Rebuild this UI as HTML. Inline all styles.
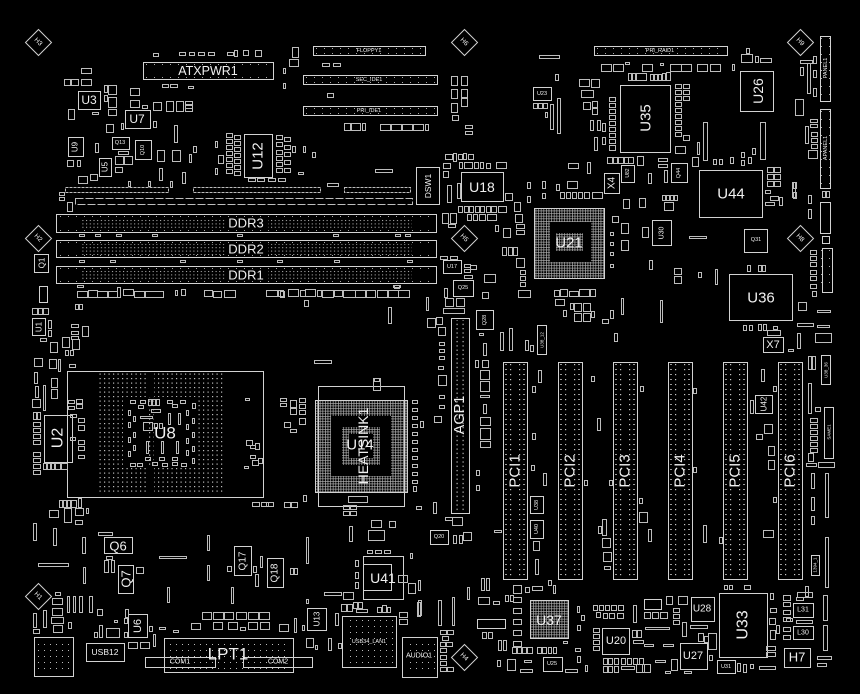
<!DOCTYPE html>
<html><head><meta charset="utf-8">
<style>
html,body{margin:0;padding:0;background:#000;width:860px;height:694px;overflow:hidden}
svg{display:block}
text{font-family:"Liberation Sans",sans-serif;fill:#f0f0f0}
</style></head><body>
<svg width="860" height="694" viewBox="0 0 860 694" xmlns="http://www.w3.org/2000/svg">
<defs>
<pattern id="pdd" x="0" y="219" width="3.7" height="3.4" patternUnits="userSpaceOnUse"><rect x="1" y="1" width="1" height="1" fill="#c8c8c8"/></pattern>
<pattern id="pu8" x="98" y="372" width="4.5" height="4.5" patternUnits="userSpaceOnUse"><rect x="1.5" y="1.5" width="1.2" height="1.2" fill="#bdbdbd"/></pattern>
<pattern id="pgrid" width="2.6" height="2.6" patternUnits="userSpaceOnUse"><path d="M0 0.35H2.6M0.35 0V2.6" stroke="#b0b0b0" stroke-width="0.7"/></pattern>
<pattern id="ppci" x="503" y="362" width="55" height="5" patternUnits="userSpaceOnUse"><rect x="7" y="2" width="1.2" height="1.2" fill="#c8c8c8"/><rect x="16" y="2" width="1.2" height="1.2" fill="#c8c8c8"/><rect x="2" y="2" width="2" height="1" fill="#999"/><rect x="20" y="2" width="2" height="1" fill="#999"/></pattern>
<pattern id="pagp" x="451" y="318" width="18" height="4.3" patternUnits="userSpaceOnUse"><rect x="5.5" y="1.5" width="1.2" height="1.2" fill="#c8c8c8"/><rect x="11.5" y="1.5" width="1.2" height="1.2" fill="#c8c8c8"/></pattern>
<pattern id="pdot6" width="6" height="6" patternUnits="userSpaceOnUse"><rect x="2" y="2" width="1" height="1" fill="#bbb"/></pattern>
</defs>

<!-- pin/dot fills -->
<g>
<rect x="80" y="218" width="145" height="11" fill="url(#pdd)"/>
<rect x="268" y="218" width="144" height="11" fill="url(#pdd)"/>
<rect x="80" y="244" width="145" height="11" fill="url(#pdd)"/>
<rect x="268" y="244" width="144" height="11" fill="url(#pdd)"/>
<rect x="80" y="269" width="145" height="11" fill="url(#pdd)"/>
<rect x="268" y="269" width="144" height="11" fill="url(#pdd)"/>
<path d="M98 372H149V495H98Z M154 372H225V495H154Z M123 397V467H197V397Z" fill="url(#pu8)" fill-rule="evenodd"/>
<rect x="503" y="364" width="24" height="214" fill="url(#ppci)"/>
<rect x="558" y="364" width="24" height="214" fill="url(#ppci)"/>
<rect x="613" y="364" width="24" height="214" fill="url(#ppci)"/>
<rect x="668" y="364" width="24" height="214" fill="url(#ppci)"/>
<rect x="723" y="364" width="24" height="214" fill="url(#ppci)"/>
<rect x="778" y="364" width="24" height="214" fill="url(#ppci)"/>
<rect x="451" y="320" width="18" height="192" fill="url(#pagp)"/>
<path d="M534 208H604V278H534Z M550 222V262H591V222Z" fill="url(#pgrid)" fill-rule="evenodd"/>
<rect x="556" y="233" width="27" height="18" fill="url(#pgrid)"/>
<path d="M315 400H407V492H315Z M331 416V476H391V416Z" fill="url(#pgrid)" fill-rule="evenodd"/>
<path d="M342 427H380V465H342Z M349 434V458H373V434Z" fill="url(#pgrid)" fill-rule="evenodd"/>
<rect x="530" y="600" width="38" height="38" fill="url(#pgrid)"/>
<rect x="36" y="641" width="34" height="32" fill="url(#pdot6)"/>
<rect x="345" y="620" width="48" height="44" fill="url(#pdot6)"/>
<rect x="405" y="640" width="30" height="34" fill="url(#pdot6)"/>
<rect x="168" y="641" width="122" height="28" fill="url(#pdot6)"/>
</g>

<g fill="none" stroke="#d2d2d2" stroke-width="1" transform="translate(.5,.5)">
<!-- mounting holes -->
<polygon points="38,29 51,42 38,55 25,42"/>
<polygon points="38,225 51,238 38,251 25,238"/>
<polygon points="38,583 51,596 38,609 25,596"/>
<polygon points="464,29 477,42 464,55 451,42"/>
<polygon points="800,29 813,42 800,55 787,42"/>
<polygon points="464,225 477,238 464,251 451,238"/>
<polygon points="800,225 813,238 800,251 787,238"/>
<polygon points="464,644 477,657 464,670 451,657"/>

<!-- connectors top -->
<rect x="143" y="62" width="130" height="17"/>
<rect x="313" y="46" width="112" height="9"/>
<rect x="303" y="75" width="134" height="9"/>
<rect x="303" y="106" width="134" height="9"/>
<rect x="594" y="46" width="133" height="9"/>
<rect x="820" y="36" width="10" height="65"/>
<rect x="820" y="109" width="10" height="79"/>
<rect x="820" y="202" width="10" height="31"/>
<rect x="822" y="236" width="7" height="7"/>
<rect x="822" y="248" width="10" height="44"/>

<!-- DDR -->
<rect x="56" y="214" width="380" height="18"/>
<rect x="56" y="240" width="380" height="17"/>
<rect x="56" y="266" width="380" height="17"/>
<rect x="416" y="167" width="23" height="37"/>

<!-- chips top -->
<rect x="78" y="91" width="22" height="18"/>
<rect x="125" y="110" width="25" height="18"/>
<rect x="244" y="134" width="28" height="43"/>
<rect x="68" y="137" width="15" height="19"/>
<rect x="112" y="137" width="17" height="12"/>
<rect x="135" y="140" width="16" height="19"/>
<rect x="99" y="158" width="12" height="18"/>
<rect x="461" y="172" width="42" height="29"/>
<rect x="533" y="87" width="18" height="13"/>
<rect x="620" y="85" width="50" height="67"/>
<rect x="740" y="71" width="33" height="40"/>
<rect x="604" y="173" width="15" height="20"/>
<rect x="621" y="165" width="13" height="17"/>
<rect x="671" y="163" width="16" height="19"/>
<rect x="699" y="170" width="63" height="47"/>
<rect x="744" y="229" width="23" height="23"/>
<rect x="652" y="220" width="19" height="25"/>
<rect x="534" y="208" width="70" height="70"/>
<rect x="729" y="274" width="63" height="46"/>
<rect x="763" y="337" width="20" height="15"/>
<rect x="443" y="260" width="18" height="13"/>
<rect x="453" y="280" width="20" height="16"/>

<!-- middle -->
<rect x="67" y="371" width="196" height="126"/>
<rect x="44" y="415" width="28" height="47"/>
<rect x="32" y="318" width="13" height="17"/>
<rect x="34" y="254" width="14" height="18"/>
<rect x="39" y="286" width="8" height="16"/>
<rect x="318" y="386" width="86" height="120"/>
<rect x="315" y="400" width="92" height="92"/>
<rect x="451" y="318" width="18" height="195"/>
<rect x="503" y="362" width="24" height="217"/>
<rect x="558" y="362" width="24" height="217"/>
<rect x="613" y="362" width="24" height="217"/>
<rect x="668" y="362" width="24" height="217"/>
<rect x="723" y="362" width="24" height="217"/>
<rect x="778" y="362" width="24" height="217"/>
<rect x="476" y="310" width="17" height="19"/>
<rect x="537" y="325" width="9" height="29"/>
<rect x="530" y="496" width="13" height="17"/>
<rect x="530" y="520" width="13" height="18"/>
<rect x="430" y="530" width="18" height="14"/>
<rect x="755" y="395" width="17" height="18"/>
<rect x="821" y="355" width="9" height="29"/>
<rect x="824" y="407" width="9" height="51"/>
<rect x="811" y="555" width="8" height="20"/>

<!-- bottom -->
<rect x="104" y="537" width="28" height="16"/>
<rect x="118" y="565" width="15" height="28"/>
<rect x="234" y="546" width="17" height="29"/>
<rect x="267" y="558" width="16" height="29"/>
<rect x="363" y="556" width="40" height="43"/>
<rect x="363" y="564" width="28" height="26"/>
<rect x="128" y="614" width="19" height="23"/>
<rect x="307" y="608" width="19" height="22"/>
<rect x="34" y="637" width="39" height="39"/>
<rect x="86" y="643" width="38" height="18"/>
<rect x="164" y="638" width="129" height="34"/>
<rect x="145" y="657" width="70" height="10"/>
<rect x="243" y="657" width="69" height="10"/>
<rect x="342" y="616" width="54" height="51"/>
<rect x="402" y="637" width="35" height="40"/>
<rect x="530" y="600" width="38" height="38"/>
<rect x="602" y="628" width="27" height="26"/>
<rect x="543" y="657" width="19" height="14"/>
<rect x="680" y="643" width="27" height="26"/>
<rect x="691" y="597" width="23" height="24"/>
<rect x="719" y="593" width="48" height="64"/>
<rect x="717" y="660" width="18" height="13"/>
<rect x="784" y="648" width="26" height="19"/>
<rect x="793" y="603" width="20" height="14"/>
<rect x="793" y="626" width="20" height="13"/>
<rect x="477" y="619" width="28" height="9"/>
<rect x="644" y="599" width="17" height="10"/>
</g>

<!-- small parts -->
<g fill="none" stroke="#bdbdbd" stroke-width="1" transform="translate(.5,.5)">
<rect x="153" y="53" width="5" height="3"/><rect x="179" y="52" width="6" height="3"/><rect x="189" y="52" width="5" height="3"/><rect x="198" y="52" width="6" height="3"/><rect x="208" y="52" width="6" height="3"/><rect x="227" y="52" width="6" height="3"/><rect x="234" y="50" width="3" height="6"/><rect x="243" y="50" width="5" height="5"/><rect x="255" y="50" width="6" height="6"/>
<rect x="292" y="47" width="6" height="10"/><rect x="289" y="59" width="9" height="7"/><rect x="283" y="68" width="2" height="5"/><rect x="283" y="83" width="2" height="5"/>
<rect x="81" y="68" width="10" height="5"/><rect x="64" y="79" width="6" height="6"/><rect x="71" y="79" width="7" height="6"/><rect x="81" y="79" width="10" height="6"/>
<rect x="162" y="84" width="6" height="3"/><rect x="170" y="84" width="7" height="3"/><rect x="188" y="86" width="5" height="2"/>
<rect x="322" y="63" width="7" height="3"/><rect x="333" y="63" width="7" height="3"/><rect x="327" y="93" width="6" height="4"/>
<rect x="68" y="109" width="6" height="10"/><rect x="92" y="112" width="6" height="2"/>
<rect x="104" y="85" width="3" height="7"/><rect x="108" y="85" width="8" height="9"/><rect x="104" y="95" width="3" height="6"/><rect x="108" y="97" width="8" height="10"/><rect x="108" y="109" width="8" height="6"/>
<rect x="130" y="88" width="9" height="7"/><rect x="130" y="100" width="9" height="7"/><rect x="142" y="105" width="5" height="3"/>
<rect x="153" y="102" width="8" height="8"/><rect x="166" y="101" width="7" height="10"/><rect x="176" y="101" width="7" height="10"/><rect x="185" y="101" width="7" height="3"/><rect x="185" y="105" width="7" height="3"/><rect x="185" y="108" width="7" height="3"/>
<rect x="153" y="121" width="3" height="6"/><rect x="106" y="124" width="7" height="8"/><rect x="121" y="123" width="2" height="6"/>
<rect x="174" y="125" width="3" height="17"/><rect x="95" y="143" width="3" height="9"/><rect x="193" y="146" width="3" height="6"/><rect x="189" y="154" width="2" height="8"/>
<rect x="115" y="156" width="8" height="8"/><rect x="124" y="156" width="8" height="8"/><rect x="118" y="151" width="10" height="3"/>
<rect x="157" y="150" width="7" height="11"/><rect x="172" y="150" width="8" height="11"/><rect x="115" y="167" width="7" height="5"/>
<rect x="67" y="160" width="6" height="6"/><rect x="77" y="160" width="3" height="6"/><rect x="78" y="176" width="9" height="7"/><rect x="90" y="174" width="7" height="6"/>
<rect x="159" y="168" width="3" height="12"/><rect x="182" y="172" width="3" height="11"/><rect x="128" y="181" width="2" height="5"/><rect x="148" y="181" width="2" height="5"/><rect x="170" y="181" width="2" height="6"/>
<rect x="226" y="133" width="6" height="4"/><rect x="226" y="139" width="6" height="4"/><rect x="226" y="145" width="6" height="4"/><rect x="226" y="151" width="6" height="4"/><rect x="226" y="157" width="6" height="4"/><rect x="226" y="163" width="6" height="4"/><rect x="226" y="169" width="6" height="4"/>
<rect x="234" y="135" width="6" height="4"/><rect x="234" y="141" width="6" height="4"/><rect x="234" y="147" width="6" height="4"/><rect x="234" y="153" width="6" height="4"/><rect x="234" y="159" width="6" height="4"/><rect x="234" y="165" width="6" height="4"/><rect x="234" y="171" width="6" height="4"/>
<rect x="276" y="135" width="6" height="4"/><rect x="276" y="142" width="6" height="4"/><rect x="276" y="150" width="6" height="4"/><rect x="276" y="156" width="6" height="4"/><rect x="276" y="162" width="6" height="4"/><rect x="276" y="168" width="6" height="4"/>
<rect x="284" y="137" width="6" height="4"/><rect x="284" y="145" width="6" height="4"/><rect x="284" y="152" width="6" height="4"/><rect x="284" y="160" width="6" height="4"/><rect x="284" y="168" width="6" height="4"/><rect x="292" y="146" width="3" height="6"/>
<rect x="248" y="178" width="7" height="3"/><rect x="257" y="178" width="7" height="3"/><rect x="268" y="178" width="7" height="3"/><rect x="278" y="178" width="7" height="3"/>
<rect x="215" y="141" width="2" height="6"/><rect x="215" y="168" width="2" height="6"/><rect x="218" y="155" width="5" height="8"/>
<rect x="303" y="146" width="2" height="6"/><rect x="312" y="152" width="3" height="5"/><rect x="298" y="172" width="5" height="2"/><rect x="375" y="169" width="17" height="3"/><rect x="327" y="183" width="11" height="3"/>
<rect x="344" y="123" width="6" height="7"/><rect x="351" y="123" width="9" height="7"/><rect x="362" y="123" width="3" height="7"/><rect x="380" y="124" width="10" height="6"/><rect x="391" y="124" width="10" height="6"/><rect x="402" y="124" width="10" height="6"/><rect x="413" y="124" width="10" height="6"/><rect x="425" y="124" width="3" height="6"/>
<rect x="59" y="192" width="5" height="3"/><rect x="59" y="197" width="5" height="3"/><rect x="67" y="202" width="5" height="9"/>
</g>
<!-- small rows (pad strips) -->
<g fill="none" stroke="#bdbdbd" stroke-width="1" stroke-dasharray="3 1" transform="translate(.5,.5)">
<rect x="65" y="187" width="103" height="5"/>
<rect x="193" y="187" width="127" height="5"/>
<rect x="344" y="187" width="66" height="5"/>
</g>
<g fill="none" stroke="#bdbdbd" stroke-width="1" stroke-dasharray="8 2" transform="translate(.5,.5)">
<rect x="75" y="198" width="337" height="6"/>
</g>

<g fill="none" stroke="#bdbdbd" stroke-width="1" transform="translate(.5,.5)">
<!-- between DDR -->
<rect x="79" y="234" width="5" height="2"/><rect x="95" y="234" width="5" height="2"/><rect x="116" y="234" width="5" height="2"/><rect x="152" y="234" width="5" height="2"/><rect x="237" y="234" width="5" height="2"/><rect x="333" y="234" width="5" height="2"/><rect x="395" y="234" width="5" height="2"/><rect x="405" y="234" width="5" height="2"/>
<rect x="79" y="260" width="5" height="2"/><rect x="110" y="260" width="5" height="2"/><rect x="180" y="260" width="5" height="2"/><rect x="237" y="260" width="5" height="2"/><rect x="277" y="260" width="5" height="2"/><rect x="334" y="260" width="5" height="2"/><rect x="407" y="260" width="5" height="2"/>
<!-- under DDR1 -->
<rect x="77" y="285" width="6" height="2"/><rect x="77" y="291" width="10" height="6"/><rect x="88" y="290" width="9" height="7"/><rect x="97" y="291" width="10" height="6"/><rect x="108" y="291" width="9" height="6"/><rect x="117" y="287" width="3" height="10"/><rect x="123" y="289" width="10" height="6"/><rect x="134" y="291" width="10" height="6"/><rect x="145" y="291" width="18" height="6"/><rect x="175" y="290" width="2" height="5"/><rect x="181" y="289" width="4" height="6"/><rect x="204" y="290" width="8" height="6"/><rect x="213" y="291" width="8" height="6"/><rect x="224" y="290" width="11" height="7"/>
<rect x="266" y="290" width="11" height="6"/><rect x="278" y="290" width="5" height="6"/><rect x="288" y="289" width="10" height="7"/><rect x="300" y="290" width="5" height="6"/><rect x="305" y="289" width="10" height="7"/><rect x="317" y="290" width="4" height="6"/><rect x="322" y="290" width="11" height="7"/><rect x="334" y="290" width="8" height="6"/><rect x="343" y="290" width="12" height="7"/><rect x="355" y="290" width="10" height="7"/><rect x="366" y="290" width="9" height="7"/><rect x="377" y="290" width="10" height="7"/><rect x="388" y="290" width="10" height="7"/><rect x="398" y="290" width="11" height="7"/><rect x="393" y="285" width="7" height="2"/>
<rect x="280" y="291" width="4" height="6"/>
<!-- right of DDR / AGP area -->
<rect x="304" y="300" width="4" height="6"/><rect x="388" y="307" width="3" height="16"/><rect x="426" y="297" width="2" height="13"/><rect x="394" y="285" width="5" height="3"/>
<rect x="444" y="288" width="3" height="9"/><rect x="445" y="298" width="8" height="8"/><rect x="456" y="298" width="8" height="8"/><rect x="443" y="308" width="21" height="5"/>
<rect x="427" y="318" width="8" height="9"/><rect x="436" y="317" width="6" height="7"/><rect x="438" y="327" width="7" height="8"/><rect x="439" y="342" width="5" height="3"/><rect x="439" y="349" width="5" height="3"/><rect x="439" y="356" width="5" height="3"/><rect x="438" y="366" width="5" height="3"/><rect x="438" y="375" width="8" height="10"/><rect x="439" y="395" width="5" height="3"/><rect x="439" y="405" width="5" height="3"/><rect x="434" y="416" width="7" height="6"/><rect x="420" y="421" width="3" height="6"/>
<rect x="314" y="360" width="17" height="3"/><rect x="373" y="378" width="7" height="12"/>
<rect x="412" y="400" width="5" height="3"/><rect x="412" y="408" width="5" height="3"/><rect x="412" y="416" width="5" height="3"/><rect x="412" y="424" width="5" height="3"/><rect x="412" y="432" width="5" height="3"/><rect x="412" y="440" width="5" height="3"/><rect x="412" y="448" width="5" height="3"/><rect x="412" y="456" width="5" height="3"/><rect x="412" y="464" width="5" height="3"/><rect x="412" y="472" width="5" height="3"/><rect x="412" y="480" width="5" height="3"/><rect x="413" y="486" width="3" height="5"/>
<rect x="280" y="398" width="6" height="3"/><rect x="280" y="403" width="6" height="3"/><rect x="290" y="400" width="6" height="7"/><rect x="290" y="408" width="6" height="6"/><rect x="299" y="398" width="6" height="4"/><rect x="299" y="404" width="6" height="4"/><rect x="299" y="410" width="6" height="4"/><rect x="299" y="418" width="6" height="6"/><rect x="284" y="422" width="6" height="5"/><rect x="290" y="429" width="6" height="3"/>
<rect x="284" y="502" width="6" height="5"/><rect x="291" y="502" width="6" height="5"/><rect x="303" y="495" width="3" height="6"/><rect x="252" y="502" width="7" height="4"/><rect x="261" y="502" width="7" height="4"/><rect x="266" y="502" width="7" height="4"/>
<rect x="348" y="496" width="19" height="6"/><rect x="343" y="505" width="6" height="4"/><rect x="343" y="511" width="6" height="4"/><rect x="350" y="505" width="6" height="4"/><rect x="350" y="511" width="6" height="4"/><rect x="374" y="378" width="5" height="3"/>
<rect x="433" y="502" width="3" height="11"/><rect x="445" y="517" width="7" height="3"/><rect x="452" y="517" width="10" height="8"/><rect x="453" y="535" width="3" height="8"/><rect x="459" y="535" width="3" height="8"/><rect x="463" y="532" width="8" height="8"/><rect x="416" y="506" width="5" height="3"/>
<!-- between AGP / PCI -->
<rect x="479" y="333" width="4" height="2"/><rect x="483" y="343" width="3" height="12"/><rect x="500" y="332" width="3" height="18"/><rect x="509" y="328" width="3" height="22"/><rect x="525" y="340" width="3" height="10"/><rect x="530" y="345" width="3" height="6"/>
<rect x="475" y="360" width="3" height="7"/><rect x="482" y="360" width="6" height="7"/><rect x="480" y="370" width="9" height="9"/><rect x="480" y="381" width="9" height="10"/><rect x="480" y="395" width="9" height="2"/><rect x="483" y="404" width="3" height="9"/><rect x="480" y="417" width="10" height="8"/><rect x="480" y="428" width="10" height="11"/><rect x="480" y="441" width="10" height="6"/>
<rect x="476" y="470" width="3" height="5"/><rect x="476" y="485" width="3" height="5"/><rect x="494" y="530" width="7" height="2"/><rect x="481" y="578" width="3" height="12"/><rect x="486" y="578" width="3" height="12"/><rect x="467" y="587" width="2" height="12"/>
<rect x="538" y="370" width="3" height="12"/><rect x="532" y="386" width="3" height="6"/><rect x="532" y="433" width="3" height="6"/><rect x="531" y="465" width="3" height="5"/><rect x="543" y="473" width="3" height="12"/><rect x="533" y="541" width="6" height="9"/><rect x="535" y="559" width="3" height="15"/>
<rect x="591" y="376" width="3" height="5"/><rect x="597" y="418" width="3" height="12"/><rect x="584" y="480" width="3" height="5"/><rect x="609" y="480" width="3" height="5"/><rect x="598" y="526" width="3" height="7"/><rect x="602" y="519" width="4" height="16"/><rect x="602" y="538" width="8" height="9"/><rect x="603" y="552" width="8" height="9"/><rect x="604" y="566" width="6" height="3"/>
<rect x="640" y="386" width="3" height="5"/><rect x="639" y="498" width="3" height="5"/><rect x="639" y="512" width="8" height="10"/><rect x="648" y="529" width="3" height="12"/>
<rect x="693" y="388" width="3" height="5"/><rect x="693" y="467" width="3" height="5"/><rect x="703" y="525" width="3" height="17"/><rect x="719" y="537" width="3" height="6"/>
<rect x="761" y="369" width="3" height="12"/><rect x="773" y="386" width="3" height="5"/><rect x="750" y="400" width="3" height="13"/><rect x="764" y="424" width="8" height="9"/><rect x="756" y="434" width="6" height="5"/><rect x="768" y="446" width="6" height="9"/><rect x="768" y="460" width="6" height="9"/><rect x="773" y="497" width="3" height="5"/><rect x="763" y="530" width="10" height="7"/>
<rect x="743" y="325" width="3" height="5"/><rect x="749" y="325" width="3" height="5"/><rect x="758" y="324" width="3" height="6"/><rect x="763" y="324" width="3" height="6"/><rect x="773" y="326" width="4" height="3"/><rect x="767" y="330" width="13" height="5"/><rect x="788" y="349" width="5" height="2"/><rect x="797" y="333" width="3" height="15"/>
<rect x="797" y="323" width="16" height="3"/><rect x="817" y="325" width="12" height="2"/><rect x="815" y="333" width="16" height="9"/><rect x="798" y="302" width="8" height="8"/><rect x="817" y="310" width="13" height="2"/>
<rect x="808" y="356" width="3" height="13"/><rect x="812" y="356" width="3" height="13"/><rect x="808" y="383" width="3" height="30"/><rect x="815" y="407" width="5" height="4"/>
<rect x="810" y="418" width="7" height="4"/><rect x="810" y="424" width="7" height="4"/><rect x="810" y="430" width="7" height="4"/><rect x="810" y="436" width="7" height="4"/><rect x="810" y="442" width="7" height="4"/><rect x="810" y="448" width="7" height="4"/><rect x="808" y="453" width="5" height="8"/>
<rect x="818" y="462" width="16" height="5"/><rect x="806" y="463" width="10" height="3"/><rect x="811" y="473" width="3" height="15"/><rect x="811" y="497" width="3" height="13"/><rect x="811" y="516" width="3" height="8"/><rect x="825" y="473" width="3" height="44"/><rect x="825" y="537" width="3" height="50"/>
<!-- U8 internals -->
<rect x="130" y="400" width="5" height="3"/><rect x="140" y="400" width="5" height="3"/><rect x="148" y="399" width="3" height="6"/><rect x="152" y="399" width="3" height="6"/><rect x="156" y="399" width="3" height="6"/><rect x="167" y="400" width="5" height="3"/><rect x="180" y="400" width="5" height="3"/>
<rect x="138" y="405" width="5" height="3"/><rect x="151" y="409" width="9" height="3"/><rect x="172" y="404" width="5" height="3"/><rect x="192" y="403" width="3" height="5"/>
<rect x="128" y="410" width="2" height="5"/><rect x="128" y="422" width="2" height="5"/><rect x="128" y="437" width="2" height="5"/><rect x="128" y="451" width="2" height="5"/><rect x="133" y="416" width="2" height="5"/><rect x="133" y="432" width="2" height="5"/><rect x="133" y="445" width="2" height="5"/>
<rect x="186" y="410" width="2" height="5"/><rect x="186" y="424" width="2" height="5"/><rect x="186" y="438" width="2" height="5"/><rect x="186" y="450" width="2" height="5"/><rect x="192" y="418" width="2" height="5"/><rect x="192" y="432" width="2" height="5"/><rect x="192" y="446" width="2" height="5"/><rect x="192" y="458" width="2" height="5"/>
<rect x="140" y="416" width="12" height="2"/><rect x="143" y="422" width="9" height="8"/><rect x="154" y="423" width="3" height="5"/><rect x="159" y="423" width="3" height="5"/><rect x="168" y="413" width="2" height="11"/><rect x="178" y="413" width="2" height="11"/>
<rect x="146" y="441" width="2" height="12"/><rect x="161" y="441" width="2" height="12"/><rect x="176" y="441" width="2" height="12"/>
<rect x="130" y="463" width="5" height="3"/><rect x="137" y="463" width="5" height="3"/><rect x="152" y="462" width="5" height="3"/><rect x="162" y="463" width="5" height="3"/><rect x="172" y="462" width="5" height="3"/><rect x="181" y="463" width="5" height="3"/><rect x="145" y="457" width="5" height="3"/><rect x="159" y="457" width="5" height="3"/><rect x="172" y="457" width="5" height="3"/>
<rect x="245" y="398" width="4" height="2"/><rect x="246" y="440" width="6" height="5"/><rect x="250" y="445" width="5" height="3"/><rect x="255" y="443" width="4" height="6"/><rect x="250" y="455" width="5" height="3"/><rect x="252" y="460" width="6" height="5"/><rect x="258" y="458" width="4" height="5"/><rect x="244" y="466" width="4" height="2"/>
<rect x="68" y="400" width="6" height="3"/><rect x="68" y="406" width="6" height="3"/><rect x="76" y="399" width="6" height="4"/><rect x="76" y="404" width="6" height="4"/><rect x="70" y="414" width="6" height="3"/><rect x="78" y="418" width="6" height="4"/><rect x="78" y="425" width="6" height="5"/><rect x="70" y="437" width="5" height="3"/><rect x="78" y="440" width="6" height="4"/><rect x="78" y="446" width="6" height="4"/><rect x="78" y="455" width="6" height="3"/>
<!-- left column -->
<rect x="32" y="308" width="5" height="6"/><rect x="38" y="308" width="4" height="6"/><rect x="43" y="308" width="5" height="6"/><rect x="75" y="304" width="3" height="5"/><rect x="79" y="304" width="3" height="5"/>
<rect x="48" y="320" width="3" height="8"/><rect x="48" y="330" width="3" height="6"/><rect x="40" y="338" width="6" height="3"/><rect x="71" y="324" width="7" height="3"/><rect x="71" y="331" width="7" height="3"/><rect x="71" y="336" width="7" height="3"/><rect x="82" y="326" width="6" height="10"/>
<rect x="50" y="342" width="7" height="10"/><rect x="62" y="337" width="7" height="10"/><rect x="72" y="339" width="7" height="10"/><rect x="65" y="350" width="3" height="5"/><rect x="70" y="350" width="3" height="5"/>
<rect x="34" y="358" width="8" height="8"/><rect x="49" y="359" width="7" height="9"/><rect x="58" y="359" width="2" height="12"/><rect x="69" y="364" width="6" height="3"/>
<rect x="34" y="372" width="3" height="11"/><rect x="35" y="386" width="3" height="11"/><rect x="43" y="385" width="2" height="25"/><rect x="51" y="378" width="6" height="9"/><rect x="51" y="389" width="6" height="9"/><rect x="32" y="399" width="8" height="8"/>
<rect x="33" y="412" width="3" height="7"/><rect x="37" y="412" width="3" height="7"/><rect x="33" y="422" width="7" height="4"/><rect x="33" y="428" width="7" height="4"/><rect x="33" y="434" width="7" height="4"/><rect x="33" y="440" width="7" height="4"/><rect x="33" y="452" width="7" height="4"/><rect x="33" y="458" width="7" height="4"/><rect x="33" y="464" width="7" height="4"/><rect x="33" y="470" width="7" height="4"/>
<rect x="43" y="463" width="3" height="6"/><rect x="47" y="463" width="3" height="6"/><rect x="51" y="463" width="3" height="6"/><rect x="55" y="463" width="5" height="6"/><rect x="61" y="463" width="6" height="6"/>
<rect x="59" y="500" width="3" height="7"/><rect x="63" y="500" width="3" height="7"/><rect x="67" y="500" width="3" height="7"/><rect x="71" y="500" width="5" height="7"/><rect x="78" y="498" width="3" height="9"/>
<rect x="49" y="510" width="9" height="7"/><rect x="64" y="508" width="7" height="14"/><rect x="75" y="508" width="8" height="7"/><rect x="86" y="508" width="2" height="5"/><rect x="75" y="520" width="7" height="4"/>
<rect x="33" y="523" width="3" height="17"/><rect x="53" y="528" width="3" height="17"/><rect x="82" y="537" width="3" height="16"/><rect x="98" y="532" width="14" height="3"/>
<rect x="104" y="560" width="4" height="12"/><rect x="111" y="560" width="3" height="12"/><rect x="106" y="556" width="6" height="3"/><rect x="136" y="567" width="7" height="6"/>
<rect x="38" y="563" width="30" height="3"/><rect x="83" y="567" width="2" height="16"/><rect x="159" y="556" width="27" height="2"/>
<rect x="207" y="535" width="2" height="15"/><rect x="207" y="565" width="2" height="15"/><rect x="167" y="587" width="2" height="15"/><rect x="227" y="566" width="4" height="5"/>
<rect x="253" y="566" width="3" height="6"/><rect x="255" y="574" width="3" height="12"/><rect x="260" y="556" width="2" height="11"/><rect x="290" y="568" width="3" height="6"/><rect x="294" y="568" width="3" height="6"/><rect x="231" y="587" width="2" height="16"/><rect x="306" y="537" width="2" height="26"/>
<rect x="324" y="592" width="17" height="3"/><rect x="343" y="592" width="10" height="7"/><rect x="349" y="526" width="3" height="15"/><rect x="371" y="520" width="10" height="7"/><rect x="368" y="530" width="16" height="10"/><rect x="389" y="521" width="6" height="6"/>
<rect x="367" y="550" width="5" height="3"/><rect x="375" y="550" width="6" height="3"/><rect x="384" y="550" width="6" height="3"/><rect x="355" y="560" width="3" height="6"/><rect x="355" y="572" width="3" height="6"/><rect x="355" y="582" width="3" height="6"/>
<rect x="398" y="575" width="9" height="7"/><rect x="408" y="583" width="7" height="10"/><rect x="418" y="580" width="2" height="10"/><rect x="410" y="553" width="2" height="5"/><rect x="418" y="600" width="3" height="15"/>
<!-- bottom left small -->
<rect x="55" y="592" width="5" height="3"/><rect x="52" y="598" width="10" height="6"/><rect x="52" y="608" width="10" height="7"/><rect x="51" y="617" width="12" height="6"/><rect x="53" y="625" width="9" height="7"/>
<rect x="67" y="596" width="2" height="16"/><rect x="73" y="596" width="2" height="16"/><rect x="79" y="596" width="3" height="16"/><rect x="89" y="596" width="3" height="16"/><rect x="97" y="609" width="5" height="6"/>
<rect x="33" y="613" width="3" height="14"/><rect x="43" y="610" width="3" height="17"/><rect x="33" y="629" width="6" height="4"/><rect x="68" y="622" width="3" height="6"/>
<rect x="94" y="632" width="3" height="5"/><rect x="99" y="625" width="3" height="12"/><rect x="106" y="628" width="13" height="9"/><rect x="114" y="620" width="3" height="2"/><rect x="125" y="609" width="3" height="8"/><rect x="124" y="618" width="3" height="5"/><rect x="124" y="632" width="3" height="5"/>
<rect x="149" y="626" width="3" height="5"/><rect x="153" y="634" width="2" height="12"/><rect x="128" y="642" width="9" height="6"/><rect x="140" y="642" width="9" height="6"/><rect x="159" y="627" width="6" height="2"/><rect x="173" y="630" width="5" height="2"/>
<rect x="202" y="612" width="9" height="7"/><rect x="213" y="612" width="10" height="7"/><rect x="224" y="612" width="9" height="7"/><rect x="236" y="612" width="10" height="7"/><rect x="248" y="612" width="10" height="7"/><rect x="259" y="612" width="10" height="7"/>
<rect x="191" y="623" width="9" height="6"/><rect x="213" y="622" width="9" height="7"/><rect x="228" y="622" width="9" height="7"/><rect x="240" y="627" width="5" height="3"/><rect x="248" y="622" width="9" height="7"/><rect x="260" y="622" width="9" height="7"/><rect x="279" y="624" width="9" height="7"/>
<rect x="294" y="618" width="2" height="14"/><rect x="302" y="625" width="2" height="5"/><rect x="306" y="599" width="2" height="4"/><rect x="306" y="638" width="7" height="9"/><rect x="315" y="645" width="2" height="4"/><rect x="328" y="638" width="3" height="12"/><rect x="335" y="613" width="3" height="12"/>
<rect x="341" y="604" width="5" height="7"/><rect x="347" y="604" width="5" height="7"/><rect x="353" y="602" width="4" height="6"/><rect x="358" y="602" width="4" height="6"/><rect x="356" y="609" width="11" height="3"/><rect x="377" y="607" width="4" height="5"/><rect x="382" y="605" width="4" height="7"/><rect x="387" y="607" width="3" height="5"/><rect x="399" y="612" width="8" height="5"/><rect x="399" y="619" width="8" height="5"/><rect x="338" y="643" width="3" height="5"/>
<rect x="417" y="602" width="3" height="14"/><rect x="438" y="600" width="3" height="25"/><rect x="452" y="597" width="2" height="28"/>
<rect x="440" y="630" width="6" height="4"/><rect x="447" y="630" width="6" height="4"/><rect x="442" y="636" width="6" height="4"/><rect x="440" y="642" width="5" height="4"/><rect x="446" y="642" width="6" height="4"/><rect x="440" y="648" width="6" height="4"/><rect x="440" y="655" width="6" height="4"/><rect x="440" y="661" width="6" height="4"/><rect x="440" y="667" width="6" height="4"/><rect x="447" y="667" width="6" height="4"/>
<!-- bottom mid -->
<rect x="478" y="597" width="11" height="7"/><rect x="493" y="601" width="6" height="3"/><rect x="505" y="595" width="3" height="6"/><rect x="510" y="595" width="3" height="6"/><rect x="513" y="585" width="8" height="8"/><rect x="525" y="587" width="4" height="5"/><rect x="532" y="586" width="10" height="4"/><rect x="548" y="580" width="3" height="5"/><rect x="553" y="585" width="2" height="8"/>
<rect x="513" y="597" width="8" height="5"/><rect x="513" y="608" width="8" height="5"/><rect x="513" y="619" width="8" height="5"/><rect x="513" y="630" width="8" height="5"/><rect x="513" y="641" width="8" height="5"/>
<rect x="482" y="632" width="4" height="6"/><rect x="488" y="632" width="4" height="6"/><rect x="498" y="640" width="3" height="10"/><rect x="503" y="640" width="3" height="10"/>
<rect x="512" y="647" width="4" height="6"/><rect x="517" y="647" width="4" height="6"/><rect x="522" y="647" width="4" height="6"/><rect x="527" y="647" width="5" height="6"/><rect x="537" y="647" width="4" height="6"/><rect x="542" y="647" width="4" height="6"/><rect x="548" y="647" width="3" height="6"/><rect x="553" y="647" width="3" height="6"/><rect x="563" y="641" width="4" height="2"/>
<rect x="497" y="660" width="3" height="6"/><rect x="507" y="659" width="8" height="11"/><rect x="524" y="660" width="7" height="2"/><rect x="520" y="669" width="12" height="3"/><rect x="565" y="669" width="12" height="3"/><rect x="585" y="665" width="2" height="6"/>
<rect x="577" y="606" width="2" height="6"/><rect x="581" y="615" width="3" height="5"/><rect x="577" y="625" width="3" height="5"/><rect x="575" y="648" width="5" height="3"/><rect x="577" y="656" width="3" height="6"/>
<rect x="593" y="605" width="4" height="5"/><rect x="599" y="605" width="4" height="5"/><rect x="605" y="605" width="4" height="5"/><rect x="611" y="605" width="5" height="5"/><rect x="618" y="605" width="5" height="5"/><rect x="596" y="612" width="4" height="5"/><rect x="603" y="613" width="4" height="5"/><rect x="609" y="613" width="5" height="5"/><rect x="617" y="613" width="6" height="5"/>
<rect x="593" y="628" width="6" height="4"/><rect x="593" y="634" width="6" height="4"/><rect x="593" y="640" width="6" height="4"/><rect x="593" y="646" width="6" height="4"/>
<rect x="632" y="630" width="4" height="7"/><rect x="637" y="630" width="4" height="7"/><rect x="633" y="640" width="10" height="3"/><rect x="633" y="605" width="3" height="17"/>
<rect x="603" y="658" width="4" height="6"/><rect x="608" y="658" width="4" height="6"/><rect x="614" y="658" width="4" height="6"/><rect x="621" y="658" width="4" height="6"/><rect x="627" y="658" width="4" height="6"/><rect x="633" y="658" width="4" height="6"/><rect x="639" y="658" width="4" height="6"/><rect x="603" y="666" width="4" height="6"/><rect x="608" y="666" width="4" height="6"/><rect x="614" y="666" width="4" height="6"/><rect x="621" y="666" width="13" height="3"/><rect x="636" y="664" width="8" height="8"/>
<rect x="644" y="612" width="6" height="6"/><rect x="652" y="612" width="6" height="6"/><rect x="660" y="612" width="7" height="6"/><rect x="645" y="627" width="24" height="2"/><rect x="644" y="644" width="9" height="2"/><rect x="663" y="644" width="10" height="2"/><rect x="655" y="660" width="10" height="2"/><rect x="642" y="664" width="8" height="8"/>
<rect x="666" y="596" width="6" height="8"/><rect x="678" y="596" width="9" height="8"/><rect x="673" y="608" width="6" height="4"/><rect x="673" y="614" width="6" height="4"/><rect x="673" y="620" width="6" height="4"/><rect x="682" y="622" width="4" height="14"/><rect x="690" y="625" width="17" height="3"/><rect x="698" y="633" width="5" height="8"/><rect x="704" y="636" width="4" height="6"/><rect x="708" y="633" width="8" height="16"/>
<rect x="671" y="659" width="6" height="11"/><rect x="665" y="671" width="5" height="2"/><rect x="684" y="671" width="7" height="2"/><rect x="709" y="655" width="3" height="5"/>
<rect x="724" y="585" width="3" height="4"/><rect x="729" y="585" width="3" height="4"/><rect x="744" y="585" width="6" height="4"/>
<rect x="770" y="593" width="3" height="6"/><rect x="770" y="608" width="6" height="4"/><rect x="769" y="618" width="6" height="6"/><rect x="770" y="630" width="5" height="9"/><rect x="766" y="646" width="9" height="4"/><rect x="766" y="652" width="9" height="4"/><rect x="759" y="666" width="16" height="3"/><rect x="737" y="663" width="3" height="8"/><rect x="743" y="664" width="3" height="8"/><rect x="750" y="664" width="3" height="4"/>
<rect x="776" y="625" width="3" height="8"/><rect x="783" y="595" width="7" height="5"/><rect x="783" y="602" width="7" height="4"/><rect x="783" y="610" width="7" height="4"/><rect x="783" y="617" width="7" height="4"/><rect x="783" y="627" width="7" height="4"/><rect x="783" y="635" width="7" height="4"/><rect x="797" y="592" width="15" height="5"/><rect x="805" y="586" width="3" height="10"/><rect x="796" y="597" width="7" height="3"/>
<rect x="823" y="595" width="4" height="25"/><rect x="823" y="625" width="4" height="25"/><rect x="817" y="656" width="14" height="3"/><rect x="817" y="663" width="9" height="3"/><rect x="786" y="618" width="6" height="3"/><rect x="796" y="620" width="16" height="3"/>
<!-- top right small -->
<rect x="539" y="55" width="20" height="3"/><rect x="555" y="74" width="3" height="6"/>
<rect x="451" y="76" width="6" height="9"/><rect x="461" y="76" width="6" height="9"/><rect x="451" y="89" width="6" height="9"/><rect x="461" y="89" width="6" height="9"/><rect x="451" y="103" width="6" height="9"/><rect x="461" y="97" width="6" height="9"/><rect x="452" y="115" width="6" height="5"/><rect x="465" y="125" width="7" height="3"/><rect x="465" y="131" width="7" height="3"/>
<rect x="533" y="103" width="4" height="5"/><rect x="538" y="103" width="4" height="5"/><rect x="543" y="103" width="4" height="5"/><rect x="550" y="104" width="3" height="25"/><rect x="557" y="98" width="3" height="35"/><rect x="545" y="112" width="2" height="5"/>
<rect x="579" y="79" width="10" height="7"/><rect x="591" y="79" width="8" height="8"/><rect x="581" y="90" width="12" height="7"/><rect x="583" y="102" width="7" height="7"/><rect x="592" y="101" width="5" height="6"/><rect x="592" y="108" width="5" height="6"/>
<rect x="590" y="120" width="3" height="10"/><rect x="597" y="120" width="3" height="10"/><rect x="602" y="123" width="3" height="8"/><rect x="594" y="137" width="3" height="13"/><rect x="602" y="137" width="3" height="7"/>
<rect x="609" y="97" width="6" height="4"/><rect x="609" y="103" width="6" height="4"/><rect x="609" y="109" width="6" height="4"/><rect x="609" y="115" width="6" height="4"/><rect x="609" y="121" width="6" height="4"/><rect x="609" y="127" width="6" height="4"/><rect x="609" y="133" width="6" height="4"/><rect x="609" y="139" width="6" height="4"/><rect x="609" y="145" width="6" height="5"/>
<rect x="675" y="84" width="6" height="4"/><rect x="675" y="90" width="6" height="4"/><rect x="675" y="96" width="6" height="4"/><rect x="675" y="102" width="6" height="4"/><rect x="675" y="108" width="6" height="4"/><rect x="675" y="114" width="6" height="4"/><rect x="675" y="120" width="6" height="4"/><rect x="675" y="126" width="6" height="4"/><rect x="675" y="132" width="6" height="4"/><rect x="683" y="84" width="6" height="4"/><rect x="683" y="90" width="6" height="4"/><rect x="683" y="96" width="6" height="4"/><rect x="683" y="135" width="6" height="5"/>
<rect x="628" y="73" width="3" height="7"/><rect x="632" y="73" width="3" height="7"/><rect x="636" y="73" width="10" height="7"/><rect x="650" y="74" width="3" height="6"/><rect x="654" y="74" width="3" height="6"/><rect x="658" y="74" width="3" height="6"/><rect x="662" y="73" width="3" height="7"/><rect x="666" y="72" width="4" height="8"/>
<rect x="601" y="64" width="10" height="7"/><rect x="613" y="64" width="10" height="7"/><rect x="625" y="62" width="4" height="2"/><rect x="642" y="64" width="10" height="7"/><rect x="660" y="63" width="3" height="2"/><rect x="670" y="64" width="11" height="7"/><rect x="681" y="64" width="10" height="7"/><rect x="697" y="64" width="10" height="7"/><rect x="710" y="64" width="10" height="7"/><rect x="732" y="64" width="2" height="6"/>
<rect x="675" y="146" width="10" height="7"/><rect x="607" y="157" width="5" height="6"/><rect x="613" y="157" width="4" height="6"/><rect x="618" y="157" width="5" height="6"/><rect x="624" y="157" width="4" height="6"/><rect x="628" y="157" width="5" height="6"/><rect x="637" y="156" width="6" height="9"/>
<rect x="658" y="158" width="9" height="3"/><rect x="658" y="164" width="9" height="3"/><rect x="648" y="173" width="3" height="10"/><rect x="664" y="170" width="3" height="12"/><rect x="692" y="157" width="6" height="9"/>
<rect x="703" y="122" width="4" height="38"/><rect x="697" y="142" width="2" height="12"/><rect x="760" y="122" width="5" height="37"/><rect x="713" y="159" width="3" height="5"/><rect x="719" y="159" width="3" height="5"/><rect x="730" y="157" width="3" height="6"/><rect x="741" y="152" width="3" height="5"/><rect x="741" y="160" width="3" height="5"/><rect x="748" y="157" width="3" height="6"/><rect x="752" y="148" width="3" height="6"/>
<rect x="767" y="167" width="6" height="5"/><rect x="774" y="167" width="6" height="5"/><rect x="767" y="174" width="6" height="5"/><rect x="774" y="174" width="6" height="5"/><rect x="767" y="181" width="6" height="5"/><rect x="774" y="181" width="6" height="5"/>
<rect x="765" y="190" width="5" height="3"/><rect x="770" y="196" width="8" height="4"/><rect x="765" y="202" width="9" height="3"/><rect x="779" y="197" width="3" height="8"/><rect x="793" y="182" width="3" height="6"/><rect x="793" y="192" width="3" height="6"/>
<rect x="741" y="54" width="11" height="8"/><rect x="746" y="48" width="3" height="5"/><rect x="755" y="56" width="3" height="6"/><rect x="760" y="58" width="11" height="4"/>
<rect x="800" y="60" width="12" height="3"/><rect x="800" y="67" width="3" height="8"/><rect x="807" y="63" width="3" height="30"/><rect x="813" y="56" width="3" height="7"/><rect x="813" y="70" width="3" height="7"/><rect x="813" y="88" width="3" height="8"/><rect x="795" y="99" width="8" height="16"/>
<rect x="805" y="126" width="3" height="17"/><rect x="810" y="119" width="7" height="3"/><rect x="810" y="124" width="7" height="3"/><rect x="811" y="132" width="6" height="4"/><rect x="811" y="138" width="6" height="4"/><rect x="811" y="144" width="6" height="4"/><rect x="808" y="150" width="9" height="8"/>
<rect x="822" y="191" width="3" height="6"/><rect x="826" y="191" width="3" height="6"/><rect x="808" y="195" width="3" height="8"/><rect x="808" y="209" width="3" height="9"/><rect x="810" y="250" width="6" height="4"/><rect x="810" y="256" width="6" height="4"/><rect x="810" y="262" width="6" height="4"/><rect x="810" y="270" width="6" height="4"/><rect x="810" y="276" width="6" height="4"/><rect x="810" y="284" width="6" height="4"/><rect x="812" y="291" width="4" height="5"/>
<rect x="792" y="182" width="3" height="15"/>
<rect x="747" y="265" width="3" height="6"/><rect x="758" y="265" width="3" height="6"/><rect x="762" y="265" width="3" height="6"/><rect x="649" y="260" width="3" height="9"/><rect x="674" y="268" width="7" height="6"/><rect x="674" y="276" width="7" height="7"/><rect x="715" y="269" width="2" height="15"/><rect x="698" y="272" width="3" height="5"/><rect x="689" y="236" width="17" height="2"/>
<rect x="642" y="227" width="6" height="10"/><rect x="664" y="202" width="9" height="8"/><rect x="662" y="195" width="3" height="5"/><rect x="666" y="195" width="3" height="5"/><rect x="670" y="195" width="3" height="5"/><rect x="674" y="195" width="3" height="5"/>
<rect x="623" y="199" width="6" height="9"/><rect x="639" y="198" width="6" height="9"/><rect x="612" y="216" width="6" height="6"/><rect x="621" y="223" width="7" height="10"/><rect x="621" y="240" width="7" height="10"/><rect x="610" y="232" width="3" height="3"/><rect x="610" y="242" width="3" height="3"/><rect x="610" y="252" width="3" height="3"/><rect x="610" y="264" width="3" height="3"/>
<rect x="560" y="192" width="4" height="6"/><rect x="566" y="192" width="4" height="6"/><rect x="572" y="192" width="4" height="6"/><rect x="578" y="192" width="4" height="6"/><rect x="584" y="192" width="5" height="6"/><rect x="592" y="192" width="10" height="6"/><rect x="567" y="181" width="10" height="7"/><rect x="568" y="163" width="10" height="5"/><rect x="587" y="162" width="3" height="11"/><rect x="556" y="184" width="3" height="6"/><rect x="542" y="181" width="3" height="7"/><rect x="527" y="182" width="3" height="6"/><rect x="527" y="196" width="3" height="6"/><rect x="542" y="193" width="3" height="5"/>
<rect x="554" y="290" width="5" height="6"/><rect x="560" y="289" width="7" height="7"/><rect x="569" y="291" width="9" height="5"/><rect x="579" y="289" width="10" height="7"/><rect x="590" y="289" width="5" height="7"/><rect x="555" y="299" width="9" height="6"/>
<rect x="574" y="303" width="7" height="8"/><rect x="583" y="303" width="7" height="8"/><rect x="574" y="313" width="7" height="8"/><rect x="583" y="313" width="7" height="8"/><rect x="570" y="303" width="3" height="6"/><rect x="591" y="311" width="3" height="6"/><rect x="563" y="310" width="3" height="6"/>
<rect x="610" y="310" width="3" height="8"/><rect x="602" y="319" width="6" height="4"/><rect x="621" y="298" width="2" height="16"/><rect x="660" y="300" width="2" height="22"/><rect x="614" y="333" width="3" height="8"/>
<!-- left-of-U21 cluster -->
<rect x="445" y="154" width="7" height="5"/><rect x="453" y="153" width="3" height="8"/><rect x="458" y="154" width="4" height="5"/><rect x="463" y="153" width="3" height="6"/><rect x="468" y="154" width="5" height="5"/>
<rect x="459" y="162" width="3" height="6"/><rect x="464" y="162" width="8" height="6"/><rect x="474" y="162" width="4" height="6"/><rect x="480" y="162" width="3" height="6"/><rect x="486" y="163" width="4" height="5"/><rect x="496" y="162" width="10" height="6"/><rect x="443" y="163" width="7" height="5"/><rect x="443" y="171" width="5" height="6"/>
<rect x="457" y="183" width="3" height="15"/><rect x="447" y="185" width="4" height="17"/><rect x="505" y="193" width="7" height="7"/><rect x="514" y="202" width="6" height="9"/><rect x="515" y="214" width="7" height="8"/>
<rect x="458" y="206" width="4" height="6"/><rect x="464" y="206" width="4" height="6"/><rect x="469" y="206" width="4" height="6"/><rect x="475" y="206" width="4" height="6"/><rect x="480" y="206" width="4" height="6"/><rect x="486" y="206" width="4" height="6"/><rect x="491" y="206" width="5" height="6"/><rect x="498" y="206" width="8" height="6"/>
<rect x="467" y="214" width="4" height="6"/><rect x="473" y="214" width="4" height="6"/><rect x="479" y="214" width="6" height="6"/><rect x="487" y="214" width="9" height="6"/><rect x="442" y="213" width="6" height="10"/><rect x="450" y="213" width="6" height="10"/><rect x="448" y="224" width="7" height="3"/>
<rect x="503" y="228" width="7" height="9"/><rect x="516" y="224" width="8" height="4"/><rect x="516" y="230" width="8" height="4"/><rect x="502" y="247" width="4" height="8"/><rect x="508" y="247" width="4" height="8"/><rect x="513" y="247" width="4" height="8"/><rect x="516" y="258" width="8" height="9"/>
<rect x="520" y="270" width="5" height="4"/><rect x="520" y="276" width="5" height="4"/><rect x="520" y="282" width="5" height="4"/><rect x="518" y="290" width="12" height="7"/><rect x="527" y="182" width="3" height="6"/>
<rect x="440" y="256" width="7" height="3"/><rect x="450" y="256" width="7" height="3"/><rect x="464" y="264" width="6" height="3"/><rect x="464" y="269" width="6" height="3"/><rect x="470" y="265" width="6" height="4"/><rect x="464" y="275" width="8" height="3"/><rect x="484" y="274" width="11" height="8"/><rect x="444" y="288" width="3" height="9"/><rect x="482" y="292" width="6" height="6"/><rect x="495" y="225" width="3" height="6"/>
</g>

<!-- dashed pin marks on connectors -->
<g stroke="#aaa" stroke-width="1" stroke-dasharray="1 7" fill="none">
<path d="M146 64.5H271M146 77.5H271"/>
<path d="M316 48.5H423M316 53.5H423"/>
<path d="M306 77.5H435M306 82.5H435M306 108.5H435M306 113.5H435"/>
<path d="M597 48.5H725M597 53.5H725"/>
<path d="M60 216.5H432M60 230.5H432M60 242.5H432M60 255.5H432M60 268.5H432M60 281.5H432"/>
<path d="M821.5 38V99M829.5 38V99M821.5 111V186M829.5 111V186M821.5 250V290M829.5 250V290"/>
</g>

<!-- labels -->
<g text-anchor="middle" dominant-baseline="central">
<text x="208" y="71" font-size="12.5">ATXPWR1</text>
<text x="369" y="51" font-size="5.5">FLOPPY1</text>
<text x="369" y="80" font-size="5.5">SEC_IDE1</text>
<text x="369" y="111" font-size="5.5">PRI_IDE1</text>
<text x="660" y="51" font-size="5.5">PRI_RAID1</text>
<text x="89" y="100" font-size="12">U3</text>
<text x="137" y="119" font-size="12">U7</text>
<text transform="translate(258,156) rotate(-90)" font-size="15">U12</text>
<text transform="translate(75,147) rotate(-90)" font-size="8">U9</text>
<text x="120" y="143" font-size="5.5">Q13</text>
<text transform="translate(143,150) rotate(-90)" font-size="5.5">Q10</text>
<text transform="translate(105,167) rotate(-90)" font-size="8">U5</text>
<text x="246" y="223" font-size="13">DDR3</text>
<text x="246" y="249" font-size="13">DDR2</text>
<text x="246" y="275" font-size="13">DDR1</text>
<text transform="translate(428,186) rotate(-90)" font-size="8.5">DSW1</text>
<text x="482" y="187" font-size="14">U18</text>
<text x="542" y="94" font-size="5.5">U23</text>
<text transform="translate(646,118) rotate(-90)" font-size="15">U35</text>
<text transform="translate(758,91) rotate(-90)" font-size="14">U26</text>
<text transform="translate(612,183) rotate(-90)" font-size="10">X4</text>
<text transform="translate(628,173) rotate(-90)" font-size="5">U82</text>
<text transform="translate(679,173) rotate(-90)" font-size="5.5">Q44</text>
<text x="731" y="194" font-size="15">U44</text>
<text x="569" y="243" font-size="15">U21</text>
<text transform="translate(662,233) rotate(-90)" font-size="7">U30</text>
<text x="756" y="240" font-size="5.5">Q31</text>
<text x="761" y="298" font-size="15">U36</text>
<text x="773" y="345" font-size="11">X7</text>
<text transform="translate(826,68) rotate(-90)" font-size="5.5">PANEL1</text>
<text transform="translate(826,148) rotate(-90)" font-size="5.5">APANEL1</text>
<text x="452" y="267" font-size="5.5">U17</text>
<text x="463" y="288" font-size="5.5">Q25</text>
<text transform="translate(42,263) rotate(-90)" font-size="8">Q1</text>
<text transform="translate(39,327) rotate(-90)" font-size="8">U1</text>
<text transform="translate(58,438) rotate(-90)" font-size="16">U2</text>
<text x="165" y="433" font-size="17">U8</text>
<text x="360" y="445" font-size="15">U14</text>
<text transform="translate(363,446) rotate(-90)" font-size="14">HEATSINK1</text>
<text transform="translate(460,415) rotate(-90)" font-size="14.5">AGP1</text>
<text transform="translate(515,471) rotate(-90)" font-size="15">PCI1</text>
<text transform="translate(570,471) rotate(-90)" font-size="15">PCI2</text>
<text transform="translate(625,471) rotate(-90)" font-size="15">PCI3</text>
<text transform="translate(680,471) rotate(-90)" font-size="15">PCI4</text>
<text transform="translate(735,471) rotate(-90)" font-size="15">PCI5</text>
<text transform="translate(790,471) rotate(-90)" font-size="15">PCI6</text>
<text transform="translate(485,320) rotate(-90)" font-size="5.5">Q28</text>
<text transform="translate(542,340) rotate(-90)" font-size="4.5">U38_12</text>
<text transform="translate(537,505) rotate(-90)" font-size="5.5">U38</text>
<text transform="translate(537,529) rotate(-90)" font-size="5.5">U40</text>
<text x="439" y="537" font-size="5.5">Q20</text>
<text transform="translate(764,404) rotate(-90)" font-size="8">U42</text>
<text transform="translate(826,370) rotate(-90)" font-size="4.5">U38_36</text>
<text transform="translate(829,432) rotate(-90)" font-size="4.5">SAME1</text>
<text transform="translate(815,565) rotate(-90)" font-size="4.5">1394_1</text>
<text x="118" y="546" font-size="13">Q6</text>
<text transform="translate(126,579) rotate(-90)" font-size="13">Q7</text>
<text transform="translate(243,561) rotate(-90)" font-size="10">Q17</text>
<text transform="translate(275,573) rotate(-90)" font-size="10">Q18</text>
<text x="383" y="578" font-size="14">U41</text>
<text transform="translate(138,626) rotate(-90)" font-size="11">U6</text>
<text transform="translate(317,619) rotate(-90)" font-size="8">U13</text>
<text x="105" y="652" font-size="8.5">USB12</text>
<text x="228" y="654" font-size="17">LPT1</text>
<text x="180" y="662" font-size="7">COM1</text>
<text x="278" y="662" font-size="7">COM2</text>
<text x="369" y="642" font-size="5.5">USB34_LAN1</text>
<text x="419" y="656" font-size="7">AUDIO1</text>
<text x="549" y="620" font-size="14">U37</text>
<text x="616" y="641" font-size="11">U20</text>
<text x="552" y="664" font-size="5.5">U25</text>
<text x="693" y="656" font-size="11">U27</text>
<text x="702" y="609" font-size="10">U28</text>
<text transform="translate(743,625) rotate(-90)" font-size="16">U33</text>
<text x="726" y="667" font-size="5.5">U31</text>
<text x="797" y="657" font-size="13">H7</text>
<text x="803" y="610" font-size="7">L31</text>
<text x="803" y="633" font-size="7">L30</text>
<text transform="translate(38,42) rotate(45)" font-size="6.5">H3</text>
<text transform="translate(38,238) rotate(45)" font-size="6.5">H2</text>
<text transform="translate(38,596) rotate(45)" font-size="6.5">H1</text>
<text transform="translate(464,42) rotate(45)" font-size="6.5">H6</text>
<text transform="translate(800,42) rotate(45)" font-size="6.5">H9</text>
<text transform="translate(464,238) rotate(45)" font-size="6.5">H5</text>
<text transform="translate(800,238) rotate(45)" font-size="6.5">H8</text>
<text transform="translate(464,657) rotate(45)" font-size="6.5">H4</text>
</g>
</svg>
</body></html>
